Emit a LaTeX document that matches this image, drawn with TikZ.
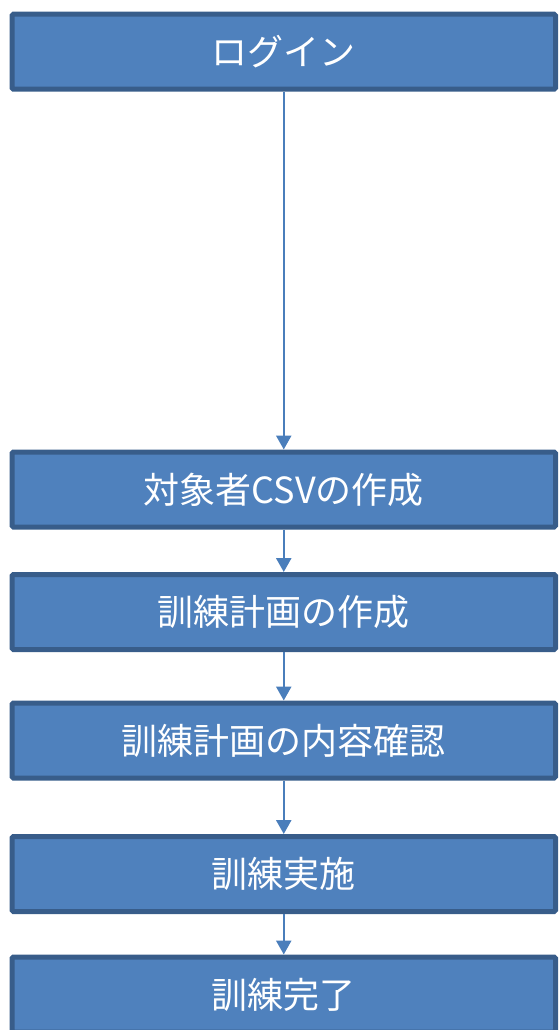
\documentclass[tikz,border=0pt]{standalone}
\usepackage{fontspec}
\newfontfamily\jp{Noto Sans CJK JP}
\usetikzlibrary{arrows.meta}
\definecolor{boxfill}{HTML}{4F81BD}
\definecolor{boxline}{HTML}{385D8A}
\definecolor{arrowc}{HTML}{4A7EBB}
\tikzset{
  flowbox/.style={draw=boxline, fill=boxfill, line width=5pt, rounded corners=1.5pt,
    minimum width=543.5pt, minimum height=75pt, inner sep=0pt,
    text=white, font=\jp\fontsize{36}{42}\selectfont},
  flowarrow/.style={draw=arrowc, line width=2.5pt, -{Triangle[width=15pt,length=14pt]}}
}
\begin{document}
\begin{tikzpicture}[x=1pt,y=1pt]
\useasboundingbox (0,0) rectangle (558,-1030);
\node[flowbox] (b1) at (283.75,-51.75) {ログイン};
\node[flowbox] (b2) at (283.75,-489.5) {対象者CSVの作成};
\node[flowbox] (b3) at (283.75,-612) {訓練計画の作成};
\node[flowbox] (b4) at (283.75,-740.5) {訓練計画の内容確認};
\node[flowbox] (b5) at (283.75,-874) {訓練実施};
\node[flowbox] (b6) at (283.75,-994.5) {訓練完了};
\draw[flowarrow] (b1) -- (b2);
\draw[flowarrow] (b2) -- (b3);
\draw[flowarrow] (b3) -- (b4);
\draw[flowarrow] (b4) -- (b5);
\draw[flowarrow] (b5) -- (b6);
\end{tikzpicture}
\end{document}
